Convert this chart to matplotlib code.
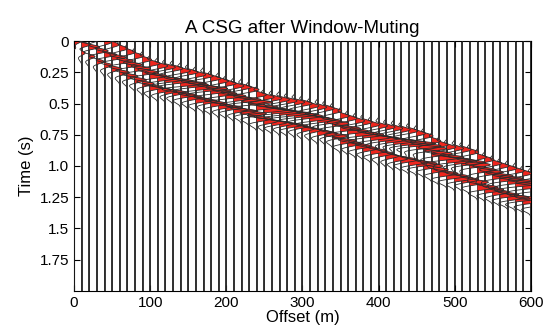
import numpy as np
import matplotlib
matplotlib.use('Agg')
import matplotlib.pyplot as plt

plt.rcParams['font.family'] = ['Liberation Sans', 'DejaVu Sans']

# Trace offsets (m)
offsets = list(range(0, 610, 10))

# Main arrival time (s) per trace
t_main = [0.00, 0.03, 0.05, 0.08, 0.11, 0.13, 0.16, 0.19, 0.22, 0.25, 0.28,
          0.30, 0.31, 0.32, 0.34, 0.35, 0.37, 0.38, 0.40, 0.42, 0.44,
          0.46, 0.47, 0.49, 0.53, 0.55, 0.56, 0.57, 0.58, 0.59, 0.60,
          0.62, 0.63, 0.64, 0.66, 0.70, 0.72, 0.74, 0.75, 0.77, 0.78,
          0.79, 0.80, 0.81, 0.82, 0.84, 0.86, 0.90, 0.93, 0.95, 0.96,
          0.97, 0.99, 1.03, 1.05, 1.08, 1.10, 1.12, 1.14, 1.16, 1.18]
amp_main = [0.5, 0.55, 0.6, 0.6, 0.65, 0.7, 0.7, 0.75, 0.8, 0.8, 0.85,
            0.9, 0.9, 1.0, 1.3, 1.0, 1.1, 1.2, 1.0, 0.9, 1.0,
            0.9, 1.0, 1.2, 1.1, 1.2, 1.2, 1.1, 1.2, 1.1, 1.0,
            1.0, 0.9, 0.8, 0.8, 1.0, 1.0, 1.1, 1.0, 1.0, 1.0,
            1.0, 1.1, 1.2, 1.3, 1.2, 1.1, 1.0, 1.2, 1.2, 1.1,
            1.1, 1.0, 0.9, 0.9, 1.0, 1.1, 1.2, 1.3, 1.2, 1.2]
# Later event (s) and its amplitude
t_late = [0.05, 0.09, 0.12, 0.16, 0.19, 0.22, 0.25, 0.28, 0.31, 0.34, 0.37,
          0.39, 0.40, 0.41, 0.43, 0.45, 0.47, 0.48, 0.50, 0.52, 0.53,
          0.55, 0.56, 0.58, 0.62, 0.64, 0.65, 0.66, 0.67, 0.68, 0.70,
          0.71, 0.73, 0.74, 0.76, 0.80, 0.82, 0.84, 0.86, 0.88, 0.90,
          0.92, 0.94, 0.95, 0.97, 0.98, 1.00, 1.03, 1.06, 1.08, 1.10,
          1.11, 1.13, 1.17, 1.19, 1.21, 1.23, 1.25, 1.26, 1.28, 1.30]
amp_late = [0.3, 0.35, 0.4, 0.4, 0.45, 0.5, 0.5, 0.55, 0.6, 0.6, 0.65,
            0.7, 0.6, 0.7, 0.8, 0.7, 0.8, 0.7, 0.8, 0.7, 0.8,
            0.7, 0.8, 0.9, 0.8, 0.7, 0.8, 0.7, 0.8, 0.7, 0.6,
            0.6, 0.7, 0.6, 0.7, 0.8, 0.7, 0.8, 0.7, 0.8, 0.7,
            0.6, 0.7, 0.8, 0.9, 1.0, 0.9, 0.8, 0.9, 1.0, 0.9,
            0.8, 0.9, 1.0, 0.9, 0.8, 0.9, 1.0, 1.1, 1.0, 1.0]
# Weak precursor amplitude
amp_early = [0.2, 0.25, 0.3, 0.3, 0.35, 0.35, 0.4, 0.4, 0.45, 0.45, 0.5,
             0.5, 0.5, 0.5, 0.5, 0.5, 0.5, 0.5, 0.5, 0.5, 0.5,
             0.5, 0.5, 0.5, 0.5, 0.5, 0.5, 0.5, 0.5, 0.5, 0.5,
             0.45, 0.45, 0.45, 0.45, 0.45, 0.45, 0.45, 0.45, 0.45, 0.45,
             0.45, 0.45, 0.45, 0.45, 0.45, 0.45, 0.45, 0.45, 0.45, 0.45,
             0.45, 0.45, 0.45, 0.45, 0.45, 0.45, 0.45, 0.45, 0.45, 0.45]

freq = 8.0
scale = 27.0
t = np.arange(0, 2.0001, 0.002)


def ricker(tt, f):
    a = (np.pi * f * tt) ** 2
    return (1 - 2 * a) * np.exp(-a)


fig = plt.figure(figsize=(5.45, 3.31), dpi=100)
ax = fig.add_axes([0.136, 0.121, 0.838, 0.755])

for i, x0 in enumerate(offsets):
    s = (amp_main[i] * ricker(t - t_main[i], freq)
         + amp_late[i] * ricker(t - t_late[i], freq)
         + amp_early[i] * ricker(t - (t_main[i] - 0.10), freq))
    # window mute with taper
    w = np.ones_like(t)
    top = t_main[i] - 0.18
    bot = t_late[i] + 0.18
    w[t < top] = 0
    w[t > bot] = 0
    tp = (t >= top) & (t < top + 0.06)
    w[tp] = 0.5 - 0.5 * np.cos(np.pi * (t[tp] - top) / 0.06)
    bp = (t <= bot) & (t > bot - 0.06)
    w[bp] = 0.5 - 0.5 * np.cos(np.pi * (bot - t[bp]) / 0.06)
    s = s * w
    xs = x0 + scale * s
    ax.fill_betweenx(t, x0, xs, where=s > 0, facecolor='#f0261e',
                     edgecolor='none', lw=0, interpolate=True, zorder=2)
    ax.plot(xs, t, color='#2a2a2a', lw=0.6, zorder=3)
    ax.axvline(x0, color='black', lw=1.1, zorder=1)

ax.set_xlim(0, 600)
ax.set_ylim(2.0, 0)
ax.set_xticks([0, 100, 200, 300, 400, 500, 600])
ax.set_yticks([0, 0.25, 0.5, 0.75, 1.0, 1.25, 1.5, 1.75])
ax.set_yticklabels(['0', '0.25', '0.5', '0.75', '1.0', '1.25', '1.5', '1.75'])
ax.tick_params(direction='in', top=True, right=True, labelsize=11, length=4)
ax.set_xlabel('Offset (m)', fontsize=12, labelpad=0)
ax.set_ylabel('Time (s)', fontsize=12)
ax.set_title('A CSG after Window-Muting', fontsize=13.5, pad=6)

fig.savefig('out.png', dpi=100)
